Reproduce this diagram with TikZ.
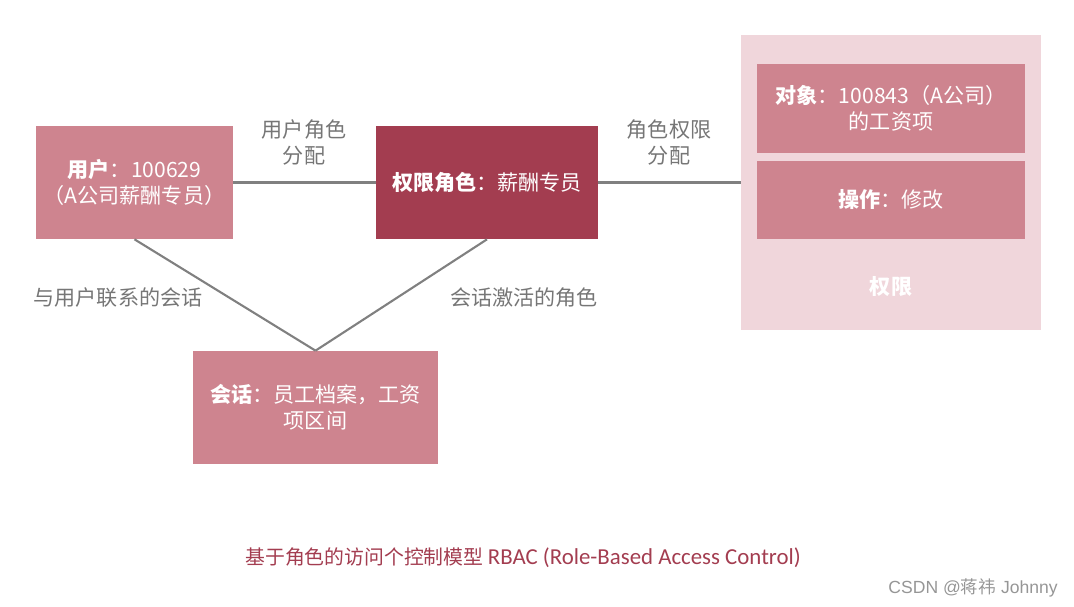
\documentclass[tikz,border=0pt]{standalone}
\usepackage{fontspec}
\setmainfont{Noto Sans CJK SC}
\newfontfamily\capfont{Carlito}
\newfontfamily\wmfont{Liberation Sans}
\definecolor{lightbox}{RGB}{206,132,143}
\definecolor{darkbox}{RGB}{163,61,80}
\definecolor{panelbg}{RGB}{240,214,219}
\definecolor{linegray}{RGB}{128,128,128}
\definecolor{labelgray}{RGB}{118,118,118}
\definecolor{captioncol}{RGB}{163,61,80}
\definecolor{wmgray}{RGB}{150,150,150}
\tikzset{
  boxbase/.style={rectangle, inner sep=0pt, align=center, text=white, font=\fontsize{12pt}{14.8pt}\selectfont},
  lightrect/.style={boxbase, fill=lightbox},
  darkrect/.style={boxbase, fill=darkbox},
  panelrect/.style={rectangle, inner sep=0pt, fill=panelbg},
  connector/.style={draw=linegray, line width=1.2pt},
  edgelabel/.style={text=labelgray, align=center, inner sep=0pt, font=\fontsize{12pt}{14.8pt}\selectfont}
}
\begin{document}
\begin{tikzpicture}[x=0.02cm,y=-0.02cm]
\useasboundingbox (0,0) rectangle (1074,607);
% right panel
\node[panelrect, minimum width=6cm, minimum height=5.9cm] (panel) at (891,182.5) {};
\node[lightrect, minimum width=5.36cm, minimum height=1.78cm] (obj) at (891,108.5) {\textbf{对象}：100843（A公司）\\的工资项};
\node[lightrect, minimum width=5.36cm, minimum height=1.56cm] (op) at (891,200) {\textbf{操作}：修改};
\node[boxbase] (permlabel) at (891,287) {\textbf{权限}};
% user and role
\node[lightrect, minimum width=3.94cm, minimum height=2.26cm] (user) at (134.5,182.5) {\textbf{用户}：100629\\（A公司薪酬专员）};
\node[darkrect, minimum width=4.44cm, minimum height=2.26cm] (role) at (487,182.5) {\textbf{权限角色}：薪酬专员};
% session
\node[lightrect, minimum width=4.9cm, minimum height=2.26cm] (session) at (315.5,407.5) {\textbf{会话}：员工档案，工资\\项区间};
% connectors
\draw[connector] (user.east) -- (role.west);
\draw[connector] (role.east) -- (panel.west);
\draw[connector] (user.south) -- (session.north);
\draw[connector] (role.south) -- (session.north);
% labels
\node[edgelabel] (l1) at (304,142) {用户角色\\分配};
\node[edgelabel] (l2) at (669,142) {角色权限\\分配};
\node[edgelabel] (l3) at (118,298) {与用户联系的会话};
\node[edgelabel] (l4) at (524,298) {会话激活的角色};
% caption
\node[text=captioncol, inner sep=0pt, font=\fontsize{11.3pt}{14pt}\selectfont] (caption) at (523,558) {基于角色的访问个控制模型 {\capfont\fontsize{13pt}{14pt}\selectfont RBAC (Role-Based Access Control)}};
% watermark
\node[text=wmgray, inner sep=0pt, anchor=east, font=\fontsize{10pt}{12pt}\selectfont] (wm) at (1058,588) {{\wmfont CSDN @}蒋祎{\wmfont\ Johnny}};
\end{tikzpicture}
\end{document}
